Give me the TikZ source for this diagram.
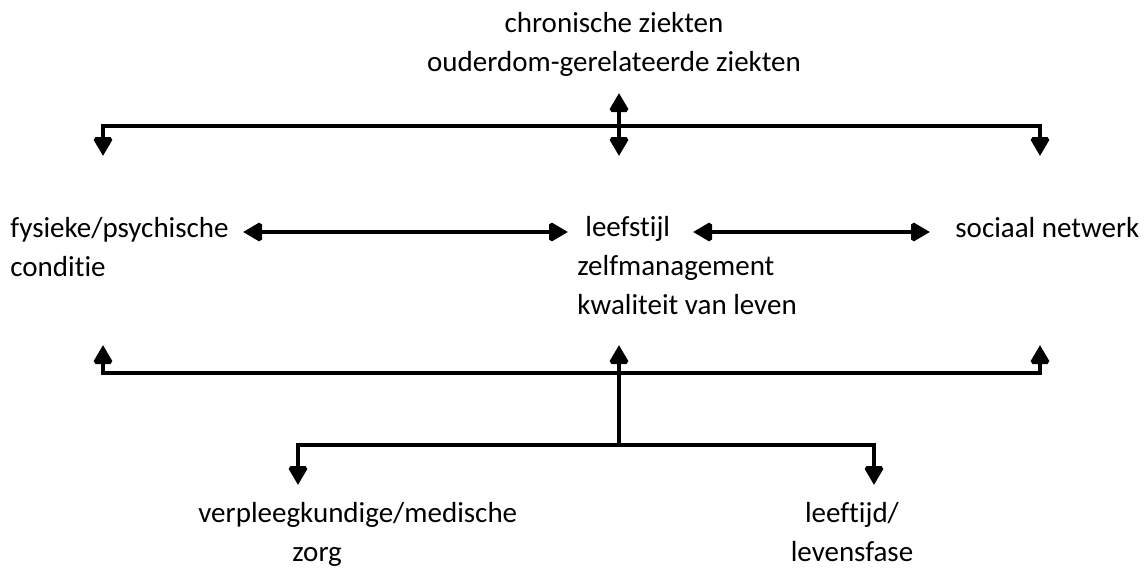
\documentclass[tikz,border=0pt]{standalone}
\usepackage{fontspec}
\setmainfont[Ligatures=NoCommon]{Carlito}
\usepackage{tikz}
\usetikzlibrary{arrows.meta}

\tikzset{
  lbl/.style={inner sep=0pt, font=\fontsize{14.5}{19.3}\selectfont},
  bar/.style={line width=2pt, miter limit=2},
  pijl/.style={bar, -{Triangle[width=10.5pt,length=9.5pt]}},
  dubbel/.style={bar, {Triangle[width=10.5pt,length=9.5pt]}-{Triangle[width=10.5pt,length=9.5pt]}},
}

\begin{document}
\begin{tikzpicture}[x=0.5pt,y=-0.5pt]
\useasboundingbox (0,0) rectangle (1147,573);

% labels (anchor = baseline of the last line)
\node[lbl, anchor=base, align=center] (ziekten) at (614,71) {chronische ziekten\\ouderdom-gerelateerde ziekten};
\node[lbl, anchor=base west, align=left] (conditie) at (10,276) {fysieke/psychische\\conditie};
\node[lbl, anchor=base west, align=left] (leefstijl) at (577,314) {\hspace*{4pt}leefstijl\\zelfmanagement\\kwaliteit van leven};
\node[lbl, anchor=base west] (netwerk) at (955,237) {sociaal netwerk};
\node[lbl, anchor=base west, align=left] (zorg) at (198,561) {verpleegkundige/medische\\\hspace*{47pt}zorg};
\node[lbl, anchor=base, align=center] (leeftijd) at (852,561) {leeftijd/\\levensfase};

\coordinate (boL) at (103,126);
\coordinate (boM) at (619,126);
\coordinate (boR) at (1040,126);
\coordinate (onL) at (103,373);
\coordinate (onM) at (619,373);
\coordinate (onR) at (1040,373);
\coordinate (laagM) at (619,445);
\coordinate (laagL) at (298,445);
\coordinate (laagR) at (874,445);

% bovenste balk
\draw[dubbel, line join=miter] (103,156) -- (boL) -- (boR) -- (1040,156);
\draw[pijl] (boM) -- (619,156);
\draw[pijl] (boM) -- (619,93);

% middelste rij
\draw[dubbel] (243,232) -- (568,232);
\draw[dubbel] (693,232) -- (930,232);

% onderste balk
\draw[dubbel, line join=miter] (103,345) -- (onL) -- (onR) -- (1040,345);
\draw[pijl] (laagM) -- (619,345);
\draw[dubbel, line join=miter] (298,485) -- (laagL) -- (laagR) -- (874,485);
\end{tikzpicture}
\end{document}
